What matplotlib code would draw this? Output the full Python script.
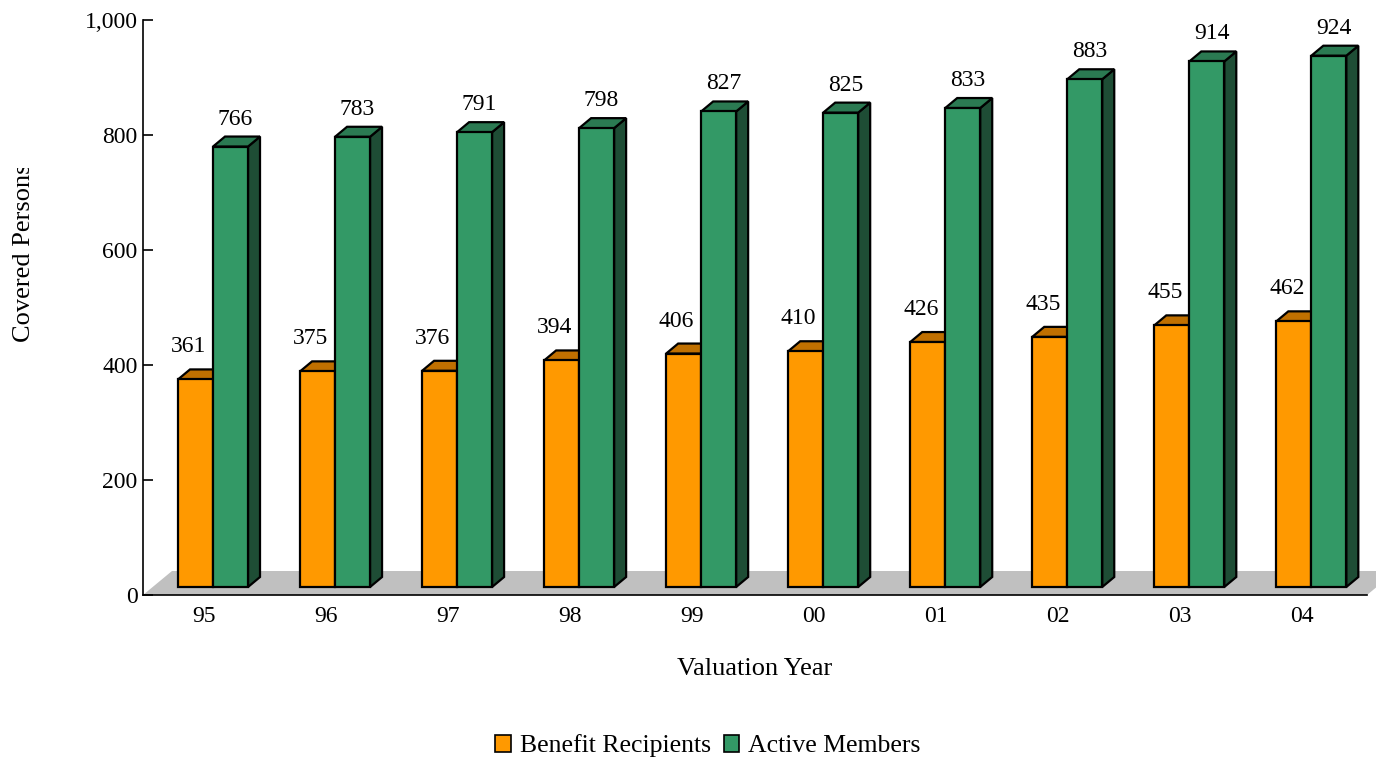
import matplotlib
matplotlib.use('Agg')
import matplotlib.pyplot as plt
from matplotlib.patches import Polygon, Patch
from matplotlib.transforms import Bbox, TransformedBbox

years = ['95', '96', '97', '98', '99', '00', '01', '02', '03', '04']
benefit_recipients = [361, 375, 376, 394, 406, 410, 426, 435, 455, 462]
active_members = [766, 783, 791, 798, 827, 825, 833, 883, 914, 924]

ORANGE = '#FF9900'
ORANGE_TOP = '#C07000'
GREEN = '#339966'
GREEN_TOP = '#2B7A52'
GREEN_SIDE = '#1E4D35'
FLOOR = '#C0C0C0'

plt.rcParams['font.family'] = ['Liberation Serif', 'DejaVu Serif']
NUM_SIZE = 17
TEXT_SIZE = 19

fig = plt.figure(figsize=(13.76, 7.65), dpi=100)
W, H = 1376, 765
ax = fig.add_axes([143 / W, 170 / H, 1224 / W, 575 / H])
ax.set_xlim(-0.5, 9.53)
ax.set_ylim(0, 1000)

# pixel -> data scale, used for the fake 3d depth
px_x = 1224 / (9.53 + 0.5)
px_y = 575 / 1000


def dx(px):
    return px / px_x


def dy(px):
    return px / px_y


# shifts (in px) of the bar front plane and of the bar depth
FRONT = (9, 8)
DEPTH = (12, 10)
BAR_W = dx(35)


def box(x0, x1, top, face, top_color, side_color):
    fx, fy = dx(FRONT[0]), dy(FRONT[1])
    ddx, ddy = dx(DEPTH[0]), dy(DEPTH[1])
    a, b = x0 + fx, x1 + fx
    y0, y1 = fy, top + fy
    side = [(b, y0), (b + ddx, y0 + ddy), (b + ddx, y1 + ddy), (b, y1)]
    lid = [(a, y1), (a + ddx, y1 + ddy), (b + ddx, y1 + ddy), (b, y1)]
    front = [(a, y0), (b, y0), (b, y1), (a, y1)]
    for pts, c in ((side, side_color), (lid, top_color), (front, face)):
        ax.add_patch(Polygon(pts, closed=True, facecolor=c, edgecolor='black',
                             linewidth=1.6, joinstyle='miter', clip_on=False))


# grey floor
fd_x, fd_y = dx(29), dy(24)
ax.add_patch(Polygon([(-0.5, 0), (9.53, 0), (9.53 + fd_x, fd_y), (-0.5 + fd_x, fd_y)],
                     closed=True, facecolor=FLOOR, edgecolor='none', clip_on=False, zorder=0))

top_y = dy(FRONT[1] + DEPTH[1])
for i in range(len(years)):
    br, am = benefit_recipients[i], active_members[i]
    box(i - BAR_W, i, br, ORANGE, ORANGE_TOP, ORANGE_TOP)
    box(i, i + BAR_W, am, GREEN, GREEN_TOP, GREEN_SIDE)
    ax.text(i - BAR_W / 2 + dx(FRONT[0] - 7), br + top_y + dy(12), f'{br:,}',
            ha='center', va='bottom', fontsize=NUM_SIZE)
    ax.text(i + BAR_W / 2 + dx(FRONT[0] + 5), am + top_y + dy(7), f'{am:,}',
            ha='center', va='bottom', fontsize=NUM_SIZE)

for s in ('top', 'right'):
    ax.spines[s].set_visible(False)
for s in ('left', 'bottom'):
    ax.spines[s].set_linewidth(1.2)
    ax.spines[s].set_zorder(5)

ax.set_yticks([0, 200, 400, 600, 800, 1000])
ax.set_yticklabels(['0', '200', '400', '600', '800', '1,000'])
ax.tick_params(axis='y', direction='in', length=7, width=1.2, pad=4, labelsize=NUM_SIZE)
ax.set_xticks(range(len(years)))
ax.set_xticklabels(years)
ax.tick_params(axis='x', length=0, pad=8, labelsize=NUM_SIZE)
ax.set_xlabel('Valuation Year', fontsize=TEXT_SIZE, labelpad=22)

ylab = fig.text(24 / W, 1 - 342 / H, 'Covered Persons', rotation=90,
                ha='center', va='bottom', fontsize=TEXT_SIZE)
ylab.set_clip_box(TransformedBbox(Bbox([[0, 0], [1, 1 - 168 / H]]), fig.transFigure))
ylab.set_clip_on(True)

handles = [Patch(facecolor=ORANGE, edgecolor='black', linewidth=1.2, label='Benefit Recipients'),
           Patch(facecolor=GREEN, edgecolor='black', linewidth=1.2, label='Active Members')]
fig.legend(handles=handles, loc='center', bbox_to_anchor=(708 / W, 1 - 746 / H), ncol=2,
           frameon=False, fontsize=18.5, handlelength=0.6, handleheight=0.6,
           handletextpad=0.35, columnspacing=0.5)

fig.savefig('out.png', dpi=100)
